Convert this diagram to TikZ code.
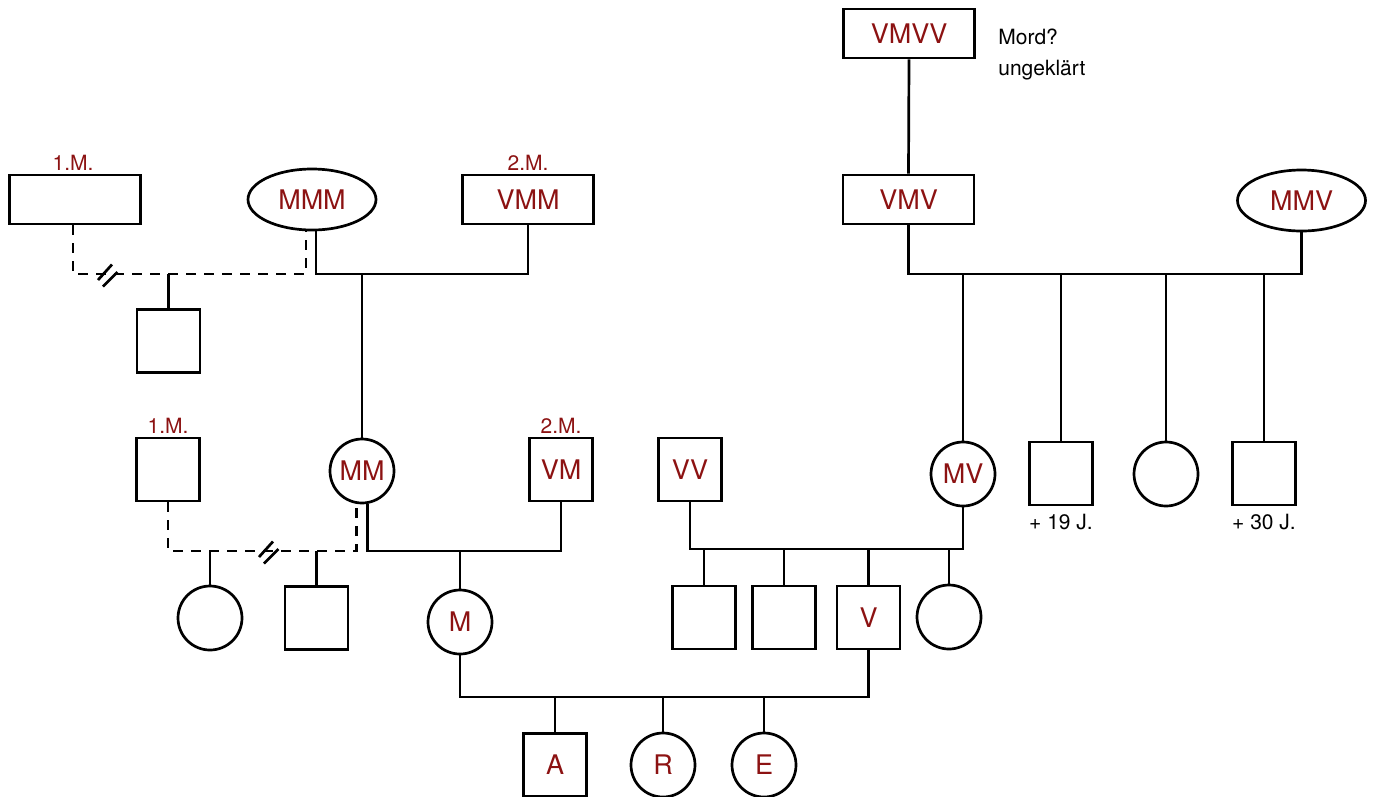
\documentclass[tikz,border=0pt]{standalone}
\usepackage{fontspec}
\setmainfont{TeX Gyre Heros}
\usetikzlibrary{shapes.geometric}
\definecolor{dred}{RGB}{140,18,18}
\tikzset{
  person/.style={draw, inner sep=0pt, text=dred, font=\fontsize{27}{31}\selectfont},
  sq/.style={person, rectangle, minimum width=63pt, minimum height=63pt},
  rbox/.style={person, rectangle, minimum width=131pt, minimum height=49pt},
  circ/.style={person, circle, minimum size=64pt},
  ell/.style={person, ellipse, minimum width=128pt, minimum height=61pt},
  lab/.style={inner sep=0pt, text=dred, font=\fontsize{21}{25}\selectfont},
  note/.style={inner sep=0pt, text=black, font=\fontsize{21}{25}\selectfont},
  dashline/.style={dash pattern=on 10pt off 8pt},
  brk/.pic={\draw (-9,6) -- (5,-9.5); \draw (-4,12.5) -- (10.5,-2);}
}
\begin{document}
\begin{tikzpicture}[x=1pt,y=-1pt,line width=2.7pt]
\useasboundingbox (0,0) rectangle (1373,796);

% generation 1/2 (top)
\node[rbox] (m1) at (75,199.5) {};
\node[lab] (m1lab) at (73,163) {1.M.};
\node[ell] (mmm) at (312,199.5) {MMM};
\node[rbox] (vmm) at (528,199.5) {VMM};
\node[lab] (vmmlab) at (528,163) {2.M.};
\node[rbox] (vmvv) at (909,33.5) {VMVV};
\node[note,anchor=base west] (mord) at (997,44.5) {Mord?};
\node[note,anchor=base west] (ungek) at (997,75.5) {ungeklärt};
\node[rbox] (vmv) at (908.5,199.5) {VMV};
\node[ell] (mmv) at (1301.5,200.5) {MMV};

\node[sq] (c1) at (168.5,341) {};

% generation 3
\node[sq] (m2) at (168,469.5) {};
\node[lab] (m2lab) at (168,426) {1.M.};
\node[circ] (mm) at (362,471) {MM};
\node[sq] (vm) at (561,469.5) {VM};
\node[lab] (vmlab) at (561,426) {2.M.};
\node[sq] (vv) at (690,469.5) {VV};
\node[circ] (mv) at (963,474) {MV};
\node[sq] (s19) at (1061,473.5) {};
\node[note] (l19) at (1061,522) {+ 19 J.};
\node[circ] (f1) at (1166,474) {};
\node[sq] (s30) at (1264,473.5) {};
\node[note] (l30) at (1264,522) {+ 30 J.};

% generation 4
\node[circ] (d1) at (210,618) {};
\node[sq] (d2) at (316.5,618) {};
\node[circ] (mo) at (460,622) {M};
\node[sq] (b1) at (704,617.5) {};
\node[sq] (b2) at (784,617.5) {};
\node[sq] (va) at (868.5,617.5) {V};
\node[circ] (f2) at (949,617) {};

% generation 5
\node[sq] (a) at (555,765) {A};
\node[circ] (r) at (663,765) {R};
\node[circ] (e) at (764,765) {E};

% junction coordinates
\coordinate (j1) at (168.5,274);
\coordinate (j2) at (362,274);
\coordinate (k1) at (963,274);
\coordinate (k2) at (1061,274);
\coordinate (k3) at (1166,274);
\coordinate (k4) at (1264,274);
\coordinate (j4) at (210,551);
\coordinate (j5) at (316.5,551);
\coordinate (j6) at (460,551);
\coordinate (k5) at (704,549);
\coordinate (k6) at (784,549);
\coordinate (k7) at (868.5,549);
\coordinate (k8) at (949,549);
\coordinate (k9) at (555,697);
\coordinate (k10) at (663,697);
\coordinate (k11) at (764,697);

% top-left divorced couple
\draw[dashline] ([xshift=-2pt]m1.south) |- (j1) -| ([xshift=-6pt]mmm.south);
\draw (j1) -- (c1.north);
\path (107,274) pic {brk};

% MMM + VMM
\draw ([xshift=4pt]mmm.south) |- (j2) -| (vmm.south);
\draw (j2) -- (mm.north);

% VMVV -> VMV
\draw (vmvv.south) -- (vmv.north);

% VMV + MMV
\draw (vmv.south) |- (k1) -| (mmv.south);
\draw (k1) -- (mv.north);
\draw (k2) -- (s19.north);
\draw (k3) -- (f1.north);
\draw (k4) -- (s30.north);

% 1.M. + MM (divorced)
\draw[dashline] (m2.south) |- (j4) -| (mm.260);
\draw (j4) -- (d1.north);
\draw (j5) -- (d2.north);
\path (268,551) pic {brk};

% MM + VM
\draw (mm.280) |- (j6) -| (vm.south);
\draw (j6) -- (mo.north);

% VV + MV
\draw (vv.south) |- (k5) -| (mv.south);
\draw (k5) -- (b1.north);
\draw (k6) -- (b2.north);
\draw (k7) -- (va.north);
\draw (k8) -- (f2.north);

% M + V
\draw (mo.south) |- (k9) -| (va.south);
\draw (k9) -- (a.north);
\draw (k10) -- (r.north);
\draw (k11) -- (e.north);
\end{tikzpicture}
\end{document}
